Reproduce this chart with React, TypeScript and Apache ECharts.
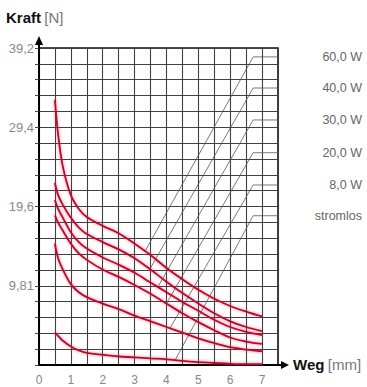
import React, { useEffect, useRef } from 'react';
import * as echarts from 'echarts';

// Weg [mm] sample positions
const weg = [0.5, 0.6, 0.75, 1, 1.25, 1.5, 2, 2.5, 3, 3.5, 4, 4.5, 5, 5.5, 6, 6.5, 7];

// Kraft [N] per curve
const kraft60W = [32.8, 28.5, 24.5, 21.0, 19.3, 18.3, 17.2, 16.3, 15.0, 13.6, 12.0, 10.6, 9.3, 8.2, 7.3, 6.6, 6.0];
const kraft40W = [22.5, 21.0, 19.8, 18.2, 17.0, 16.2, 15.2, 14.3, 13.2, 11.8, 10.3, 8.9, 7.6, 6.4, 5.4, 4.7, 4.2];
const kraft30W = [20.4, 19.3, 18.2, 16.4, 15.2, 14.4, 13.3, 12.4, 11.4, 10.2, 9.0, 7.8, 6.7, 5.6, 4.7, 4.1, 3.7];
const kraft20W = [18.5, 17.6, 16.6, 15.0, 13.8, 13.0, 11.8, 10.9, 9.9, 8.8, 7.6, 6.4, 5.3, 4.3, 3.4, 2.9, 2.6];
const kraft8W = [15.0, 13.2, 11.8, 10.0, 9.0, 8.4, 7.6, 6.9, 6.1, 5.4, 4.7, 4.0, 3.3, 2.7, 2.2, 1.9, 1.7];
const kraftStromlos = [4.0, 3.6, 3.0, 2.3, 1.8, 1.5, 1.25, 1.05, 0.95, 0.82, 0.7, 0.5, 0.35, 0.25, 0.15, 0.1, 0.1];

const seriesNames = ['60,0 W', '40,0 W', '30,0 W', '20,0 W', '8,0 W', 'stromlos'];
const curves = [kraft60W, kraft40W, kraft30W, kraft20W, kraft8W, kraftStromlos];

// leader lines: where they leave each curve, and the Kraft level of the label
const leaderStartWeg = [3.33, 3.48, 3.73, 4.0, 4.11, 4.27];
const leaderLabelKraft = [38.1, 34.25, 30.3, 26.25, 22.26, 18.46];

const xTickLabels = ['0', '1', '2', '3', '4', '5', '6', '7'];
const yTickLabels = ['9,81', '19,6', '29,4', '39,2'];

const X_MAX = 7.5;
const Y_MAX = 39.2;
const Y_STEP = 1.96;

function interp(xs: number[], ys: number[], x: number) {
  for (let i = 0; i < xs.length - 1; i++) {
    if (x >= xs[i] && x <= xs[i + 1]) {
      const t = (x - xs[i]) / (xs[i + 1] - xs[i]);
      return ys[i] + t * (ys[i + 1] - ys[i]);
    }
  }
  return ys[ys.length - 1];
}

const FONT = 'Liberation Sans, Arial, sans-serif';

export default function App() {
  const ref = useRef<HTMLDivElement>(null);
  useEffect(() => {
    const chart = echarts.init(ref.current!, null, { renderer: 'svg' });
    const bendX = 6.72;
    const endX = 8.19;
    const curveSeries = curves.map((c, i) => ({
      type: 'line',
      name: seriesNames[i],
      data: weg.map((x, j) => [x, c[j]]),
      smooth: 0.35,
      symbol: 'none',
      z: 4,
      lineStyle: { color: '#b3102c', width: 1.8, shadowBlur: 3, shadowColor: 'rgba(255,40,90,0.65)' },
    }));
    const leaderSeries = curves.map((c, i) => {
      const x0 = leaderStartWeg[i];
      const y0 = interp(weg, c, x0);
      return {
        type: 'line',
        name: 'leader' + i,
        data: [[x0, y0], [bendX, leaderLabelKraft[i]], [endX, leaderLabelKraft[i]]],
        symbol: 'none',
        clip: false,
        silent: true,
        z: 3,
        lineStyle: { color: '#555', width: 0.8 },
      };
    });
    chart.setOption({
      animation: false,
      grid: {
        left: 39, top: 48, width: 239, height: 317,
        show: true, borderColor: '#111', borderWidth: 1.6, backgroundColor: 'transparent',
      },
      xAxis: {
        type: 'value', min: 0, max: X_MAX, interval: 0.5,
        axisLine: { show: true, onZero: false, lineStyle: { color: '#000', width: 2 } },
        axisTick: { show: false },
        splitLine: { show: true, lineStyle: { color: '#404040', width: 1.1 } },
        axisLabel: {
          color: '#888', fontSize: 12, margin: 9, fontFamily: FONT,
          showMaxLabel: true, showMinLabel: true,
          formatter: (v: number) => {
            const k = Math.round(v * 2);
            return k % 2 === 0 && k / 2 < xTickLabels.length ? xTickLabels[k / 2] : '';
          },
        },
      },
      yAxis: {
        type: 'value', min: 0, max: Y_MAX, interval: Y_STEP,
        axisLine: { show: true, onZero: false, lineStyle: { color: '#000', width: 2 } },
        axisTick: { show: true, length: 4, lineStyle: { color: '#444', width: 1 } },
        splitLine: { show: true, lineStyle: { color: '#404040', width: 1.1 } },
        axisLabel: {
          color: '#888', fontSize: 13, margin: 5, fontFamily: FONT,
          showMaxLabel: true,
          formatter: (v: number) => {
            const k = Math.round(v / Y_STEP);
            return k > 0 && k % 5 === 0 ? yTickLabels[k / 5 - 1] : '';
          },
        },
      },
      series: [...leaderSeries, ...curveSeries],
    });

    const [ox, oy] = chart.convertToPixel({ gridIndex: 0 }, [0, 0]) as number[];
    const [, ty] = chart.convertToPixel({ gridIndex: 0 }, [0, Y_MAX]) as number[];
    const [rx] = chart.convertToPixel({ gridIndex: 0 }, [X_MAX, 0]) as number[];
    const labelTexts = seriesNames.map((n, i) => {
      const [, ly] = chart.convertToPixel({ gridIndex: 0 }, [0, leaderLabelKraft[i]]) as number[];
      return {
        type: 'text', x: 362, y: ly,
        style: { text: n, fill: '#666', font: `12.5px ${FONT}`, align: 'right', verticalAlign: 'middle' },
      };
    });
    chart.setOption({
      graphic: [
        { type: 'line', shape: { x1: ox, y1: ty, x2: ox, y2: ty - 6 }, style: { stroke: '#000', lineWidth: 2 } },
        { type: 'polygon', shape: { points: [[ox - 4, ty - 3], [ox + 4, ty - 3], [ox, ty - 12]] }, style: { fill: '#000' } },
        { type: 'line', shape: { x1: rx, y1: oy, x2: rx + 5, y2: oy }, style: { stroke: '#000', lineWidth: 2 } },
        { type: 'polygon', shape: { points: [[rx + 3, oy - 4], [rx + 3, oy + 4], [rx + 11, oy]] }, style: { fill: '#000' } },
        {
          type: 'text', x: 6, y: 17,
          style: {
            text: '{b|Kraft} {g|[N]}', verticalAlign: 'middle',
            rich: {
              b: { font: `bold 15px ${FONT}`, fill: '#111' },
              g: { font: `15px ${FONT}`, fill: '#777' },
            },
          },
        },
        {
          type: 'text', x: rx + 15, y: oy - 1,
          style: {
            text: '{b|Weg} {g|[mm]}', verticalAlign: 'middle',
            rich: {
              b: { font: `bold 15px ${FONT}`, fill: '#111' },
              g: { font: `15px ${FONT}`, fill: '#777' },
            },
          },
        },
        ...labelTexts,
      ],
    });
    return () => chart.dispose();
  }, []);
  return <div ref={ref} style={{ position: 'fixed', left: 0, top: 0, width: 367, height: 387, background: '#fff' }} />;
}
